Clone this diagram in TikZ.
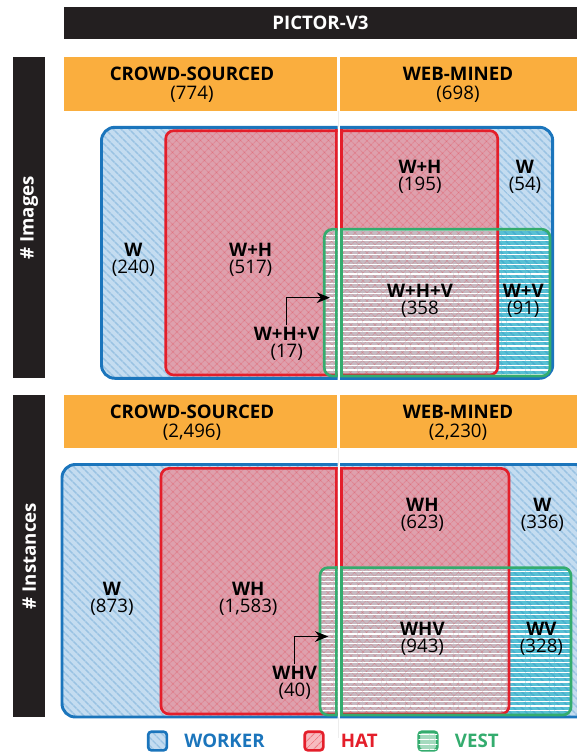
\documentclass[tikz,border=0pt]{standalone}
\usepackage{fontspec}
\setmainfont{Open Sans}
\usepackage{xcolor}
\usepackage{tikz}
\usetikzlibrary{positioning, arrows.meta, patterns.meta}

\definecolor{barblack}{RGB}{35,31,32}
\definecolor{barorange}{RGB}{250,174,62}
\definecolor{wkline}{RGB}{27,117,188}
\definecolor{wkfill}{RGB}{196,220,240}
\definecolor{hatline}{RGB}{228,30,42}
\definecolor{hatfill}{RGB}{222,160,173}
\definecolor{vestline}{RGB}{52,172,110}
\definecolor{vestfill}{RGB}{88,192,212}
\definecolor{bothfill}{RGB}{198,186,194}

\newcommand{\lblfont}{\fontsize{14}{12.5}\selectfont}
\newcommand{\hdrfont}{\fontsize{14}{14}\selectfont}

\tikzset{
  wkround/.style={rounded corners=10pt},
  hatround/.style={rounded corners=6pt},
  wkborder/.style={draw=wkline, line width=2.2pt, wkround},
  hatborder/.style={draw=hatline, line width=2pt, hatround},
  vestborder/.style={draw=vestline, line width=2pt, hatround},
  wkpat/.style={pattern={Lines[angle=-45,distance=4pt,line width=1.2pt]}, pattern color=wkline, fill opacity=0.25},
  hatpat/.style={pattern={Lines[angle=45,distance=4pt,line width=0.9pt]}, pattern color=hatline, fill opacity=0.18},
  hatpatb/.style={pattern={Lines[angle=-45,distance=4pt,line width=0.9pt]}, pattern color=hatline, fill opacity=0.18},
  vestpat/.style={pattern={Lines[angle=0,distance=3.6pt,line width=0.8pt]}, pattern color=white, fill opacity=0.15},
  cnt/.style={align=center, font=\lblfont, inner sep=2pt},
  hdrtext/.style={align=center, font=\hdrfont, inner sep=0pt},
  titletext/.style={text=white, font=\hdrfont\bfseries, inner sep=0pt},
  sidetext/.style={text=white, font=\hdrfont\bfseries, rotate=90, inner sep=0pt},
  arrowed/.style={-{Stealth[length=10pt,width=8pt]}, line width=1pt, black},
  legsq/.style={minimum size=14pt, inner sep=0pt, line width=2pt, rounded corners=2.5pt},
  legtext/.style={font=\hdrfont\bfseries, inner sep=0pt, anchor=west},
  splitfaint/.style={draw=black!7, line width=0.6pt},
}

% one half of a Venn panel, uses coordinates b1,b2 (worker), r1,r2 (hat), g1,g2 (vest)
\newcommand{\vennlayers}{%
  % worker
  \fill[wkfill, wkround] (b1) rectangle (b2);
  \path[wkround, wkpat] (b1) rectangle (b2);
  % hat
  \fill[hatfill, hatround] (r1) rectangle (r2);
  \path[hatround, hatpat] (r1) rectangle (r2);
  \path[hatround, hatpatb] (r1) rectangle (r2);
  % vest
  \fill[vestfill, hatround] (g1) rectangle (g2);
  \path[hatround, wkpat] (g1) rectangle (g2);
  \begin{scope}
    \clip[hatround] (r1) rectangle (r2);
    \fill[bothfill, hatround] (g1) rectangle (g2);
    \path[hatround, hatpat] (g1) rectangle (g2);
    \path[hatround, hatpatb] (g1) rectangle (g2);
  \end{scope}
  \path[hatround, vestpat] (g1) rectangle (g2);
  % outlines
  \draw[wkborder] (b1) rectangle (b2);
  \draw[hatborder] (r1) rectangle (r2);
  \draw[vestborder] (g1) rectangle (g2);
}

\begin{document}
\begin{tikzpicture}[x=0.75pt, y=-0.75pt]
\useasboundingbox (0,0) rectangle (577,754);

% Title bar
\fill[barblack] (64,6.7) rectangle (577,39.3);
\node[titletext] (title) at (320.5,23) {PICTOR-V3};

% Side bars
\fill[barblack] (13.3,57.3) rectangle (45,378);
\node[sidetext] (imgside) at (29.2,217.7) {\# Images};
\fill[barblack] (13.3,395) rectangle (45,717);
\node[sidetext] (instside) at (29.2,556) {\# Instances};

% Header bars (crowd-sourced | web-mined)
\fill[barorange] (64,57.3) rectangle (337.3,110.7);
\fill[barorange] (339.7,57.3) rectangle (577,110.7);
\node[hdrtext] (crowdimg) at (192,85) {\textbf{CROWD-SOURCED}\\(774)};
\node[hdrtext] (webimg) at (458,85) {\textbf{WEB-MINED}\\(698)};
\fill[barorange] (64,395) rectangle (337.3,448.3);
\fill[barorange] (339.7,395) rectangle (577,448.3);
\node[hdrtext] (crowdinst) at (192,423) {\textbf{CROWD-SOURCED}\\(2,496)};
\node[hdrtext] (webinst) at (458,423) {\textbf{WEB-MINED}\\(2,230)};

% faint split guide
\draw[splitfaint] (338.5,110.7) -- (338.5,127);
\draw[splitfaint] (338.5,448.3) -- (338.5,464.5);
\draw[splitfaint] (338.5,717) -- (338.5,738);

% Images panel
\coordinate (b1) at (101.5,127.3); \coordinate (b2) at (552.7,378.3);
\coordinate (r1) at (165.7,130.7); \coordinate (r2) at (497.7,375);
\coordinate (g1) at (324.3,229.3); \coordinate (g2) at (550,376);
\begin{scope}
  \clip (60,120) rectangle (337.6,385);
  \vennlayers
  \coordinate (sl) at (336.3,0);
  \draw[hatborder, line cap=rect] (r1 -| sl) -- (g1 -| sl);
  \draw[vestborder, line cap=rect] (g1 -| sl) -- (g2 -| sl);
\end{scope}
\begin{scope}
  \clip (340,120) rectangle (577,385);
  \vennlayers
  \coordinate (sr) at (341.3,0);
  \draw[hatborder, line cap=rect] (r1 -| sr) -- (g1 -| sr);
  \draw[vestborder, line cap=rect] (g1 -| sr) -- (g2 -| sr);
\end{scope}

\node[cnt] (wimg) at (133.3,260) {\textbf{W}\\(240)};
\node[cnt] (whimg) at (250.7,260) {\textbf{W+H}\\(517)};
\node[cnt] (whweb) at (420,177) {\textbf{W+H}\\(195)};
\node[cnt] (wweb) at (525,177) {\textbf{W}\\(54)};
\node[cnt] (whvweb) at (420,301) {\textbf{W+H+V}\\(358};
\node[cnt] (wvweb) at (523.3,301) {\textbf{W+V}\\(91)};
\node[cnt] (whvimg) at (286.7,344) {\textbf{W+H+V}\\(17)};
\coordinate (tipimg) at (330,297.7);
\draw[arrowed] (whvimg.north) |- (tipimg);

% Instances panel
\coordinate (b1) at (62,464.5); \coordinate (b2) at (592,717);
\coordinate (r1) at (161,468.4); \coordinate (r2) at (509,714);
\coordinate (g1) at (320,567.6); \coordinate (g2) at (571,715);
\begin{scope}
  \clip (55,455) rectangle (337.6,725);
  \vennlayers
  \coordinate (sl) at (336.3,0);
  \draw[hatborder, line cap=rect] (r1 -| sl) -- (g1 -| sl);
  \draw[vestborder, line cap=rect] (g1 -| sl) -- (g2 -| sl);
\end{scope}
\begin{scope}
  \clip (340,455) rectangle (577,725);
  \vennlayers
  \coordinate (sr) at (341.3,0);
  \draw[hatborder, line cap=rect] (r1 -| sr) -- (g1 -| sr);
  \draw[vestborder, line cap=rect] (g1 -| sr) -- (g2 -| sr);
\end{scope}

\node[cnt] (winst) at (112,599) {\textbf{W}\\(873)};
\node[cnt] (whinst) at (248.3,599) {\textbf{WH}\\(1,583)};
\node[cnt] (whwebi) at (422.4,515) {\textbf{WH}\\(623)};
\node[cnt] (wwebi) at (542.4,515) {\textbf{W}\\(336)};
\node[cnt] (whvwebi) at (422.4,638.5) {\textbf{WHV}\\(943)};
\node[cnt] (wvwebi) at (541.4,638.5) {\textbf{WV}\\(328)};
\node[cnt] (whvinst) at (294.7,683) {\textbf{WHV}\\(40)};
\coordinate (tipinst) at (328.3,636.5);
\draw[arrowed] (whvinst.north) |- (tipinst);

% Legend
\node[legsq, draw=wkline, fill=wkfill, postaction={wkpat}] (wkkey) at (157.5,741) {};
\node[legtext, text=wkline, right=12pt of wkkey] (wklbl) {WORKER};
\node[legsq, draw=hatline, fill=hatline!30, postaction={hatpat, fill opacity=0.4}] (hatkey) at (314,741) {};
\node[legtext, text=hatline, right=12pt of hatkey] (hatlbl) {HAT};
\node[legsq, draw=vestline, fill=vestline!45, postaction={vestpat, fill opacity=0.6}] (vestkey) at (428,741) {};
\node[legtext, text=vestline, right=12pt of vestkey] (vestlbl) {VEST};
\end{tikzpicture}
\end{document}
